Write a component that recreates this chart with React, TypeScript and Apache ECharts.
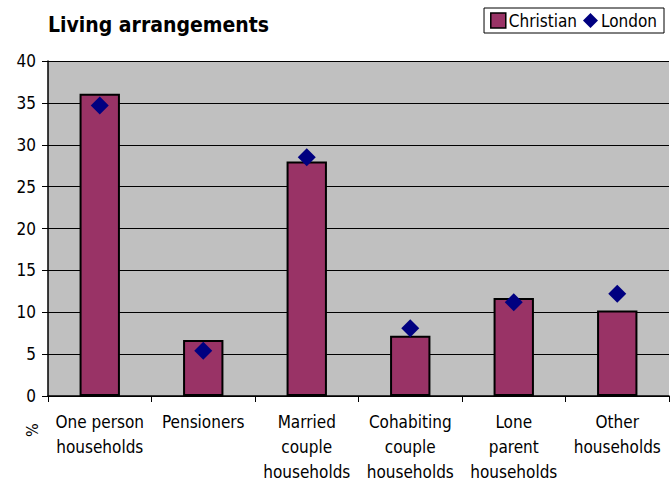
import React, { useEffect, useRef } from "react";
import * as echarts from "echarts";

const categories = [
  "One person\nhouseholds",
  "Pensioners",
  "Married\ncouple\nhouseholds",
  "Cohabiting\ncouple\nhouseholds",
  "Lone\nparent\nhouseholds",
  "Other\nhouseholds",
];
const christian = [36.1, 6.7, 28.0, 7.2, 11.7, 10.2];
const london = [34.7, 5.4, 28.5, 8.1, 11.2, 12.2];
const yTicks = { min: 0, max: 40, interval: 5 };

const FONT = "'DejaVu Sans Condensed', 'DejaVu Sans', sans-serif";

export default function App() {
  const ref = useRef<HTMLDivElement>(null);
  useEffect(() => {
    const chart = echarts.init(ref.current!, null, { renderer: "svg" });
    chart.setOption({
      animation: false,
      backgroundColor: "#ffffff",
      textStyle: { fontFamily: FONT },
      title: {
        text: "Living arrangements",
        left: 43,
        top: 9,
        textStyle: { fontFamily: FONT, fontSize: 21, fontWeight: "bold", color: "#000" },
      },
      legend: {
        right: 8,
        top: 8,
        borderColor: "#000",
        borderWidth: 1,
        padding: [4, 7, 4, 6],
        itemGap: 6,
        itemWidth: 15,
        itemHeight: 15,
        textStyle: { fontFamily: FONT, fontSize: 17, color: "#000", padding: [0, 0, 0, -2] },
        data: [
          { name: "Christian", icon: "rect", itemStyle: { borderColor: "#000", borderWidth: 1.5 } },
          { name: "London", icon: "diamond" },
        ],
      },
      grid: {
        left: 48,
        right: 3,
        top: 61,
        bottom: 90,
        show: true,
        backgroundColor: "#c0c0c0",
        borderWidth: 0,
      },
      graphic: [
        {
          type: "text",
          x: 24,
          y: 437,
          rotation: Math.PI / 2,
          style: { text: "%", font: `16px ${FONT}`, fill: "#000" },
        },
      ],
      xAxis: {
        type: "category",
        data: categories,
        axisLine: { lineStyle: { color: "#000", width: 1.5 } },
        axisTick: { show: true, length: 6, lineStyle: { color: "#000" }, alignWithLabel: false },
        axisLabel: {
          interval: 0,
          color: "#000",
          fontSize: 17,
          fontFamily: FONT,
          lineHeight: 25,
          margin: 13,
          verticalAlign: "top",
        },
      },
      yAxis: {
        type: "value",
        min: yTicks.min,
        max: yTicks.max,
        interval: yTicks.interval,
        axisLine: { show: true, lineStyle: { color: "#000", width: 1.5 } },
        axisTick: { show: true, length: 6, lineStyle: { color: "#000" } },
        axisLabel: { color: "#000", fontSize: 17, fontFamily: FONT, margin: 12 },
        splitLine: { show: true, lineStyle: { color: "#000", width: 1 } },
      },
      series: [
        {
          name: "Christian",
          type: "bar",
          data: christian,
          barWidth: "39%",
          itemStyle: { color: "#993366", borderColor: "#000", borderWidth: 2 },
          z: 2,
        },
        {
          name: "London",
          type: "scatter",
          data: london,
          symbol: "diamond",
          symbolSize: 18,
          itemStyle: { color: "#000080", opacity: 1 },
          z: 3,
        },
      ],
    });
    return () => chart.dispose();
  }, []);
  return <div ref={ref} style={{ width: 672, height: 486, position: "absolute", left: 0, top: 0 }} />;
}
